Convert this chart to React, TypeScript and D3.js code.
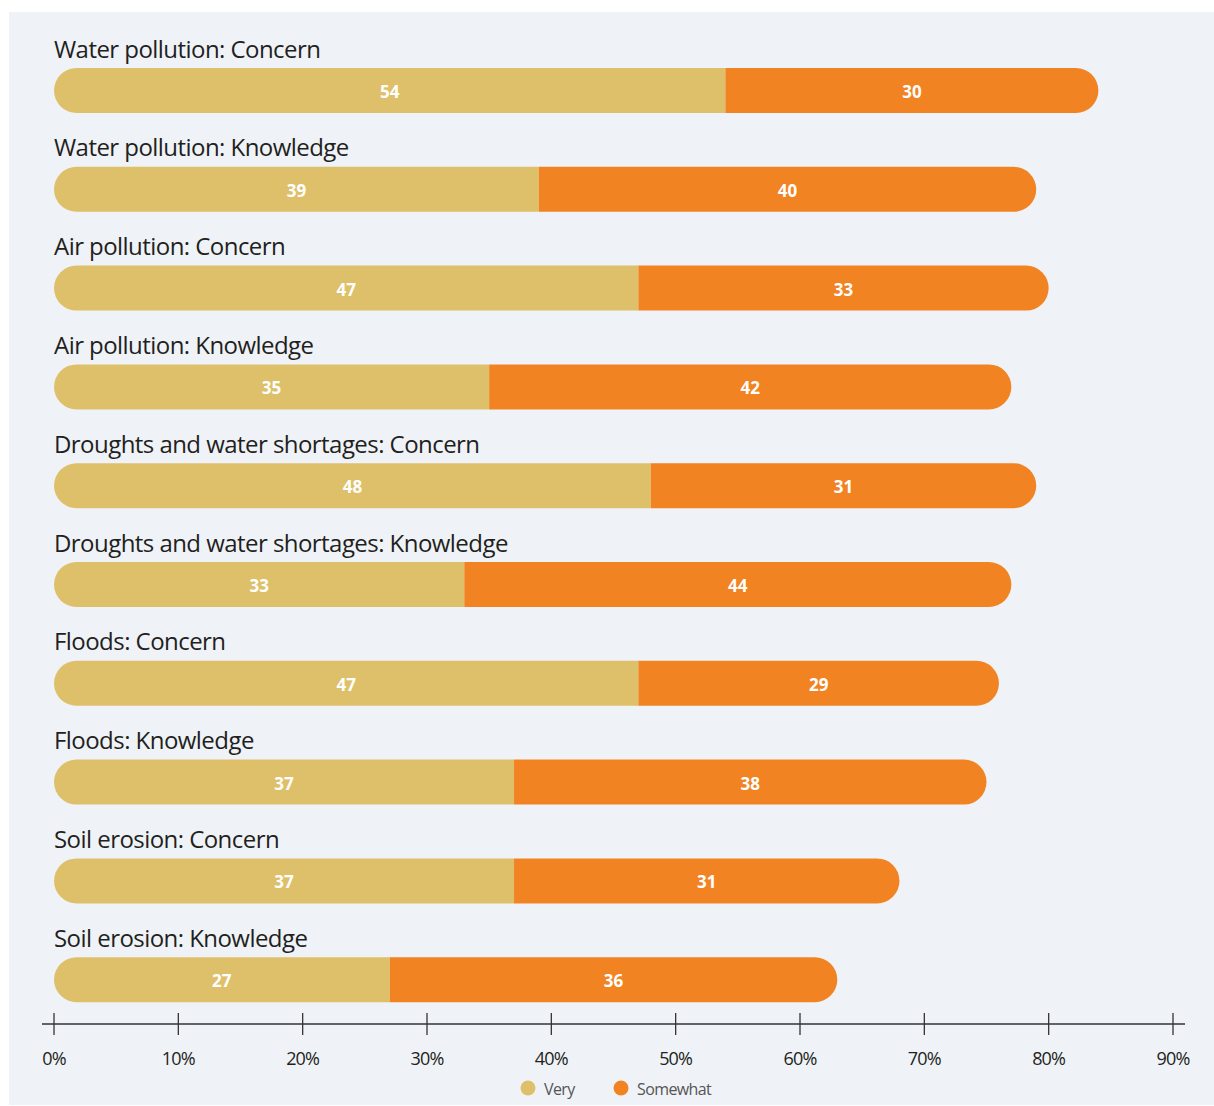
import React from "react";
import * as d3 from "d3";

const categories = [
  "Water pollution: Concern",
  "Water pollution: Knowledge",
  "Air pollution: Concern",
  "Air pollution: Knowledge",
  "Droughts and water shortages: Concern",
  "Droughts and water shortages: Knowledge",
  "Floods: Concern",
  "Floods: Knowledge",
  "Soil erosion: Concern",
  "Soil erosion: Knowledge",
];
const veryValues = [54, 39, 47, 35, 48, 33, 47, 37, 37, 27];
const somewhatValues = [30, 40, 33, 42, 31, 44, 29, 38, 31, 36];
const tickValues = [0, 10, 20, 30, 40, 50, 60, 70, 80, 90];
const seriesNames = ["Very", "Somewhat"];
const colors = ["#dfc06a", "#f28322"];

const W = 1214;
const H = 1106;
const FONT = "'Open Sans', 'Liberation Sans', sans-serif";

export default function App() {
  const x = d3.scaleLinear().domain([0, 90]).range([54, 1173]);
  const y = d3.scaleBand<number>().domain(d3.range(categories.length)).range([43, 1031]).paddingInner(0).paddingOuter(0);
  const barH = 45;
  const r = barH / 2;
  const axisY = 1024;

  const roundedPath = (x0: number, x1: number, top: number, roundLeft: boolean, roundRight: boolean) => {
    const p = d3.path();
    const b = top + barH;
    if (roundLeft) {
      p.moveTo(x0 + r, top);
    } else {
      p.moveTo(x0, top);
    }
    if (roundRight) {
      p.lineTo(x1 - r, top);
      p.arc(x1 - r, top + r, r, -Math.PI / 2, Math.PI / 2);
    } else {
      p.lineTo(x1, top);
      p.lineTo(x1, b);
    }
    if (roundLeft) {
      p.lineTo(x0 + r, b);
      p.arc(x0 + r, top + r, r, Math.PI / 2, (3 * Math.PI) / 2);
    } else {
      p.lineTo(x0, b);
      p.closePath();
    }
    return p.toString();
  };

  return (
    <svg width={W} height={H} style={{ position: "absolute", left: 0, top: 0 }} xmlns="http://www.w3.org/2000/svg">
      <rect x={0} y={0} width={W} height={H} fill="#ffffff" />
      <rect x={9} y={12} width={W - 9} height={H - 13} fill="#eff3f8" />
      {categories.map((c, i) => {
        const band = y(i)!;
        const top = band + 25;
        const v = veryValues[i];
        const s = somewhatValues[i];
        return (
          <g key={c}>
            <text x={54} y={band + 5} fontFamily={FONT} fontSize={24} fill="#231f20" dominantBaseline="central" style={{ letterSpacing: "-0.55px" }}>
              {c}
            </text>
            <path d={roundedPath(x(0), x(v), top, true, false)} fill={colors[0]} />
            <path d={roundedPath(x(v), x(v + s), top, false, true)} fill={colors[1]} />
            <text x={(x(0) + x(v)) / 2} y={top + barH / 2 + 1} textAnchor="middle" dominantBaseline="central" fontFamily={FONT} fontWeight={700} fontSize={17} fill="#ffffff">
              {v}
            </text>
            <text x={(x(v) + x(v + s)) / 2} y={top + barH / 2 + 1} textAnchor="middle" dominantBaseline="central" fontFamily={FONT} fontWeight={700} fontSize={17} fill="#ffffff">
              {s}
            </text>
          </g>
        );
      })}
      <line x1={42} x2={1185} y1={axisY} y2={axisY} stroke="#333" strokeWidth={1.3} />
      {tickValues.map((t) => (
        <g key={t}>
          <line x1={x(t)} x2={x(t)} y1={axisY - 11} y2={axisY + 11} stroke="#333" strokeWidth={1.3} />
          <text x={x(t)} y={1058} textAnchor="middle" dominantBaseline="central" fontFamily={FONT} fontSize={18} fill="#231f20" style={{ letterSpacing: "-0.8px" }}>
            {t}%
          </text>
        </g>
      ))}
      {seriesNames.map((n, i) => {
        const cx = i === 0 ? 528 : 621;
        return (
          <g key={n}>
            <circle cx={cx} cy={1088} r={7.5} fill={colors[i]} />
            <text x={cx + 16} y={1089} dominantBaseline="central" fontFamily={FONT} fontSize={16} fill="#555" style={{ letterSpacing: "-0.6px" }}>
              {n}
            </text>
          </g>
        );
      })}
    </svg>
  );
}
